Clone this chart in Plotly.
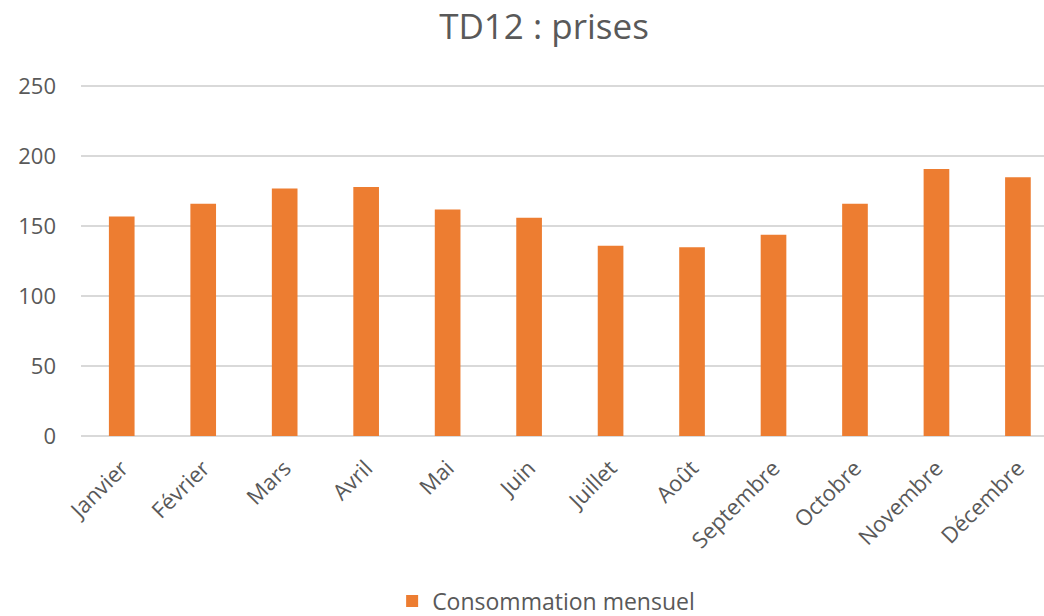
import plotly.graph_objects as go

months = ["Janvier", "Février", "Mars", "Avril", "Mai", "Juin", "Juillet",
          "Août", "Septembre", "Octobre", "Novembre", "Décembre"]
values = [157, 166, 177, 178, 162, 156, 136, 135, 144, 166, 191, 185]
series_name = "Consommation mensuel"
y_ticks = [0, 50, 100, 150, 200, 250]

FONT = "Open Sans"
TXT = "#595959"
W, H = 1044, 616

fig = go.Figure()
fig.add_trace(go.Bar(
    x=list(range(len(months))), y=values, name=series_name,
    marker=dict(color="#ED7D31", line=dict(width=0)),
    width=0.315, showlegend=True,
))

fig.update_layout(
    width=W, height=H,
    margin=dict(l=81, r=0, t=85, b=180, autoexpand=False),
    paper_bgcolor="white", plot_bgcolor="white",
    title=dict(text="TD12 : prises", x=544 / W, xref="container", xanchor="center",
               y=1 - 27 / H, yref="container", yanchor="middle", pad=dict(t=0, b=0),
               font=dict(family=FONT, size=35, color=TXT)),
    font=dict(family=FONT, color=TXT),
    showlegend=True,
    legend=dict(orientation="h", x=0.483, xanchor="center", xref="paper",
                y=15 / H, yref="container", yanchor="middle",
                font=dict(family=FONT, size=23, color=TXT),
                itemwidth=30),
)
fig.update_xaxes(
    range=[-0.5, 11.32],
    tickmode="array", tickvals=list(range(len(months))), ticktext=months,
    tickangle=-45, tickfont=dict(family=FONT, size=22, color=TXT),
    showgrid=False, showline=False, zeroline=False, ticks="",
    ticklabelstandoff=14,
)
fig.update_yaxes(
    range=[0, 251], tickmode="array", tickvals=y_ticks,
    tickfont=dict(family=FONT, size=22, color=TXT),
    showgrid=True, gridcolor="#D9D9D9", gridwidth=1.5,
    zeroline=True, zerolinecolor="#D9D9D9", zerolinewidth=1.5,
    showline=False, ticks="", ticklabelstandoff=24,
)

fig.write_html("out.html", config={"displayModeBar": False},
               post_script="document.body.style.margin='0';document.body.style.overflow='hidden';")
